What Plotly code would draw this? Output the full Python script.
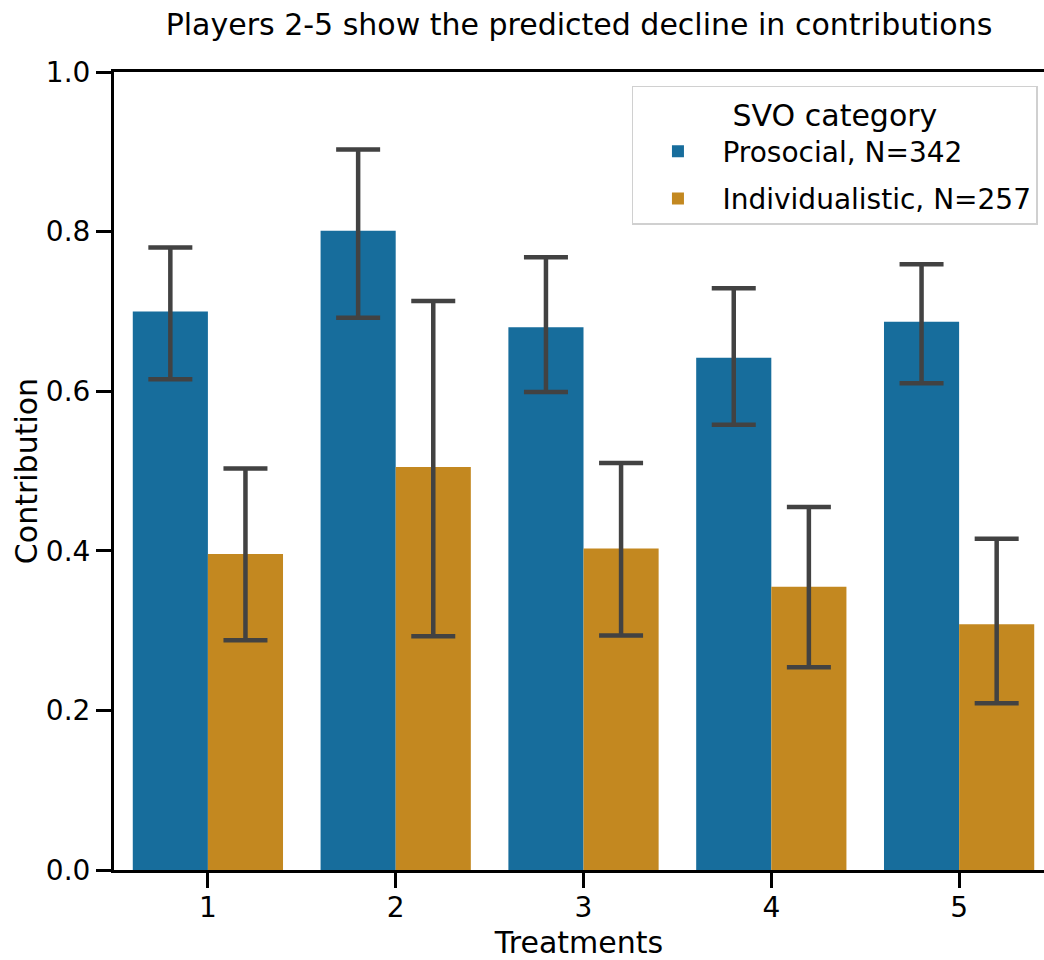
import plotly.graph_objects as go

treatments = ["1", "2", "3", "4", "5"]
prosocial_mean = [0.700, 0.801, 0.680, 0.642, 0.687]
prosocial_lo = [0.615, 0.692, 0.599, 0.558, 0.610]
prosocial_hi = [0.780, 0.903, 0.768, 0.729, 0.759]
indiv_mean = [0.396, 0.505, 0.403, 0.355, 0.308]
indiv_lo = [0.288, 0.293, 0.294, 0.254, 0.209]
indiv_hi = [0.503, 0.713, 0.510, 0.455, 0.415]
series_names = ["Prosocial, N=342", "Individualistic, N=257"]
colors = ["#176d9c", "#c38820"]

FONT = "DejaVu Sans"
ERR_COLOR = "#424242"

fig = go.Figure()
for i, (name, mean, lo, hi, col) in enumerate([
    (series_names[0], prosocial_mean, prosocial_lo, prosocial_hi, colors[0]),
    (series_names[1], indiv_mean, indiv_lo, indiv_hi, colors[1]),
]):
    fig.add_trace(go.Bar(
        x=treatments, y=mean, name=name, legendgroup=f"g{i}",
        marker=dict(color=col, line=dict(width=0)),
        error_y=dict(type="data", symmetric=False,
                     array=[h - m for h, m in zip(hi, mean)],
                     arrayminus=[m - l for m, l in zip(mean, lo)],
                     color=ERR_COLOR, thickness=4.5, width=22),
    ))

fig.update_layout(
    width=1044, height=960,
    margin=dict(l=114, r=0, t=72, b=90),
    paper_bgcolor="white", plot_bgcolor="white",
    barmode="group", bargap=0.2, bargroupgap=0,
    font=dict(family=FONT, size=28, color="black"),
    title=dict(text="Players 2-5 show the predicted decline in contributions",
               x=0.5, xref="paper", y=1 - 24 / 960, yref="container",
               yanchor="middle", xanchor="center",
               font=dict(family=FONT, size=30, color="black")),
    legend=dict(
        title=dict(text="SVO category", side="top center",
                   font=dict(family=FONT, size=30, color="black")),
        font=dict(family=FONT, size=28, color="black"),
        x=0.9935, xanchor="right", y=0.9825, yanchor="top",
        bgcolor="white", bordercolor="#d0d0d0", borderwidth=1.5,
        itemwidth=79, tracegroupgap=8,
    ),
    xaxis=dict(
        type="category", range=[-0.5, 4.452],
        showline=True, linecolor="black", linewidth=3, mirror=True,
        ticks="outside", ticklen=15, tickwidth=3, tickcolor="black",
        ticklabelstandoff=-5,
        tickfont=dict(family=FONT, size=28, color="black"),
        showgrid=False, zeroline=False,
        title=dict(text="Treatments", standoff=10,
                   font=dict(family=FONT, size=30, color="black")),
    ),
    yaxis=dict(
        range=[0, 1.0], tickvals=[0, 0.2, 0.4, 0.6, 0.8, 1.0],
        ticktext=["0.0", "0.2", "0.4", "0.6", "0.8", "1.0"],
        showline=True, linecolor="black", linewidth=3,
        ticks="outside", ticklen=15, tickwidth=3, tickcolor="black",
        tickfont=dict(family=FONT, size=28, color="black"),
        showgrid=False, zeroline=False,
        title=dict(text="Contribution", standoff=0,
                   font=dict(family=FONT, size=30, color="black")),
    ),
)

fig.write_html("out.html")
